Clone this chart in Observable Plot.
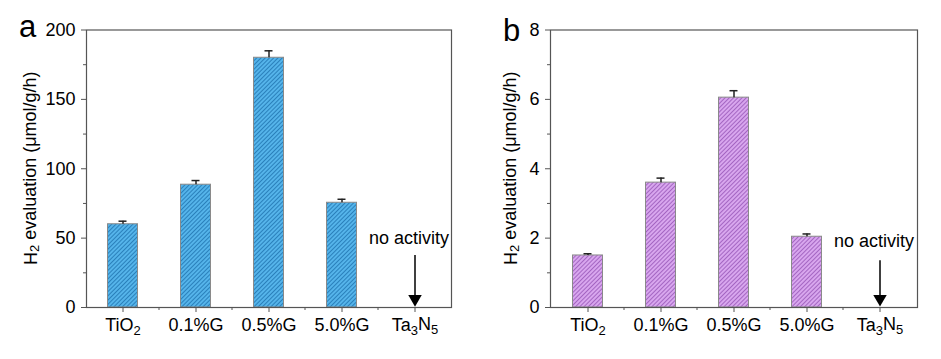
<!DOCTYPE html>
<html><head><meta charset="utf-8">
<script src="https://cdn.jsdelivr.net/npm/d3@7"></script>
<script src="https://cdn.jsdelivr.net/npm/@observablehq/plot@0.6"></script>
<style>
body{margin:0;background:#fff;}
#wrap{display:flex;width:941px;height:359px;overflow:hidden;}
svg text{font-family:"Liberation Sans",Arial,sans-serif;}
</style></head><body><div id="wrap"></div>
<script>
const categories = ["TiO2", "0.1%G", "0.5%G", "5.0%G", "Ta3N5"];
const valuesA = [60, 88.5, 180, 75.5, null];
const errorsA = [2.2, 3, 5, 2.5, null];
const valuesB = [1.5, 3.6, 6.05, 2.04, null];
const errorsB = [0.05, 0.13, 0.2, 0.08, null];
const yTicksA = [0, 50, 100, 150, 200];
const yMinorA = [25, 75, 125, 175];
const yTicksB = [0, 2, 4, 6, 8];
const yMinorB = [1, 3, 5, 7];
const noteText = "no activity";
const noteCategory = "Ta3N5";
const noteA = {cat: noteCategory, text: noteText, ty: 50, from: 37.5, to: 6.2};
const noteB = {cat: noteCategory, text: noteText, ty: 1.9, from: 1.35, to: 0.25};
const yLabel = ["H", "2", " evaluation (\u03bcmol/g/h)"];

function subscriptify(textEl, str) {
  const t = d3.select(textEl);
  t.text(null);
  let runs = [];
  for (let i = 0; i < str.length; i++) {
    const ch = str[i];
    const sub = /\d/.test(ch) && i > 0 && /[A-Za-z]/.test(str[i-1]);
    if (runs.length && runs[runs.length-1].sub === sub) runs[runs.length-1].s += ch;
    else runs.push({s: ch, sub});
  }
  let shifted = false;
  runs.forEach(r => {
    const ts = t.append("tspan").text(r.s);
    if (r.sub) { ts.attr("dy", "0.3em").style("font-size", "13px"); shifted = true; }
    else if (shifted) { ts.attr("dy", "-0.3em"); shifted = false; }
  });
}

function panel(o) {
  const data = categories.map((c, i) => ({cat: c, v: o.values[i], e: o.errors[i]})).filter(d => d.v != null);
  const chart = Plot.plot({
    width: o.width, height: 359,
    marginLeft: o.ml, marginRight: o.mr, marginTop: 29.5, marginBottom: 52,
    style: {fontFamily: "Liberation Sans, Arial, sans-serif", fontSize: "18px", color: "#000", background: "#fff", overflow: "visible"},
    x: {type: "band", domain: categories, padding: 0, axis: null},
    y: {domain: o.domain, axis: null},
    marks: [
      Plot.barY(data, {x: "cat", y: "v", fill: `url(#${o.pid})`, stroke: "#8a8a8a", strokeWidth: 1, insetLeft: 21.5, insetRight: 21.5}),
      Plot.ruleX(data, {x: "cat", y1: "v", y2: d => d.v + d.e, stroke: "#222", strokeWidth: 1.5}),
      Plot.tickY(data, {x: "cat", y: d => d.v + d.e, stroke: "#222", strokeWidth: 1.5, insetLeft: 32.5, insetRight: 32.5}),
      Plot.axisY(o.yTicks, {tickSize: 5, tickPadding: 6, stroke: "#555", fill: "#000", fontSize: 18, label: null}),
      Plot.axisY(o.yMinor, {tickSize: 3, tickFormat: () => "", stroke: "#555", label: null}),
      Plot.axisX(categories, {tickSize: 5, tickPadding: 6, stroke: "#555", fill: "#000", fontSize: 18, label: null}),
      Plot.frame({stroke: "#555", strokeWidth: 1.2}),
      Plot.text([o.note], {x: "cat", y: "ty", text: "text", dx: -6, fontSize: 18, fill: "#000"}),
      Plot.ruleX([o.note], {x: "cat", y1: "from", y2: "to", stroke: "#000", strokeWidth: 1.5}),
      Plot.dot([o.note], {x: "cat", y: "to", symbol: "triangle", rotate: 180, r: 5, fill: "#000", stroke: null})
    ]
  });
  const svg = d3.select(chart.tagName === "svg" ? chart : chart.querySelector("svg"));
  const defs = svg.insert("defs", ":first-child");
  const p = defs.append("pattern").attr("id", o.pid).attr("patternUnits", "userSpaceOnUse")
    .attr("width", 3).attr("height", 3).attr("patternTransform", "rotate(45)");
  p.append("rect").attr("width", 3).attr("height", 3).attr("fill", o.base);
  p.append("line").attr("x1", 0.5).attr("y1", 0).attr("x2", 0.5).attr("y2", 3).attr("stroke", o.line).attr("stroke-width", 1);

  svg.selectAll('g[aria-label$="tick label"]').attr("font-size", 18).style("font-size", "18px").attr("fill", "#000");
  svg.selectAll('g[aria-label$="tick label"] text').attr("font-size", 18).style("font-size", "18px");
  svg.selectAll('g[aria-label="x-axis tick label"] text').each(function() {
    subscriptify(this, this.textContent);
  });
  const xs = chart.scale("x");
  const yBase = 359 - 52;
  const minor = svg.append("g").attr("stroke", "#555");
  categories.slice(0, -1).forEach(c => {
    const xp = xs.apply(c) + xs.bandwidth;
    minor.append("line").attr("x1", xp).attr("x2", xp).attr("y1", yBase).attr("y2", yBase + 3);
  });
  const cy = (29.5 + 307) / 2;
  const yl = svg.append("text").attr("transform", `translate(${o.lx},${cy}) rotate(-90)`)
    .attr("text-anchor", "middle").attr("dominant-baseline", "middle").attr("font-size", 18).attr("fill", "#000");
  yl.append("tspan").text(yLabel[0]);
  yl.append("tspan").text(yLabel[1]).attr("dy", "0.3em").attr("font-size", 13);
  yl.append("tspan").text(yLabel[2]).attr("dy", "-0.3em");
  svg.append("text").attr("x", o.letterX).attr("y", o.letterY).attr("font-size", 31)
    .attr("text-anchor", "start").attr("fill", "#000").text(o.letter);
  return chart;
}

const wrap = document.getElementById("wrap");
wrap.append(panel({width: 470, ml: 86, mr: 19, domain: [0, 200], values: valuesA, errors: errorsA,
  yTicks: yTicksA, yMinor: yMinorA, note: noteA, pid: "hatchA", base: "#55b4ea", line: "#2a80bb",
  lx: 32, letter: "a", letterX: 19, letterY: 37}));
wrap.append(panel({width: 471, ml: 80, mr: 24, domain: [0, 8], values: valuesB, errors: errorsB,
  yTicks: yTicksB, yMinor: yMinorB, note: noteB, pid: "hatchB", base: "#d8a6ee", line: "#a466c2",
  lx: 42, letter: "b", letterX: 33, letterY: 41}));
</script></body></html>
